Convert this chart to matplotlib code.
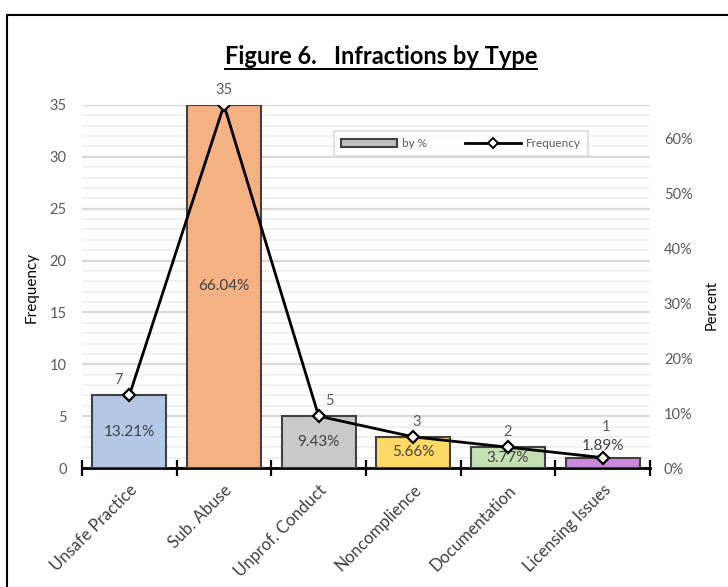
import matplotlib
matplotlib.use("Agg")
import matplotlib.pyplot as plt
import matplotlib.patches as patches
from matplotlib.lines import Line2D
from matplotlib.ticker import MultipleLocator, PercentFormatter

plt.rcParams["font.family"] = ["Lato", "DejaVu Sans"]

categories = ["Unsafe Practice", "Sub. Abuse", "Unprof. Conduct",
              "Noncomplience", "Documentation", "Licensing Issues"]
frequency = [7, 35, 5, 3, 2, 1]
percent = [13.21, 66.04, 9.43, 5.66, 3.77, 1.89]
bar_colors = ["#B4C7E7", "#F4B183", "#C9C9C9", "#FFD966", "#C5E0B4", "#CC88DD"]

GRAY_TXT = "#595959"
DARK_TXT = "#404040"

fig = plt.figure(figsize=(7.28, 5.87), dpi=100)
fig.patch.set_facecolor("white")

# outer frame of the chart object
fig.add_artist(patches.Rectangle((7 / 728, -0.1), 1.0, 1 - 15 / 587 + 0.1,
                                 transform=fig.transFigure, fill=False,
                                 edgecolor="black", linewidth=1.5))

rect = [82 / 728, 1 - 468 / 587, (650 - 82) / 728, (468 - 105) / 587]
ax = fig.add_axes(rect)          # frequency scale + gridlines
ax2 = ax.twinx()                 # percent bars
ax3 = ax.twinx()                 # frequency line on top

x = list(range(len(categories)))
fmax = 35

# gridlines on the frequency axis
ax.set_ylim(0, fmax)
ax.set_xlim(-0.5, len(categories) - 0.5)
ax.yaxis.set_major_locator(MultipleLocator(5))
ax.yaxis.set_minor_locator(MultipleLocator(1))
ax.grid(True, which="major", axis="y", color="#D9D9D9", linewidth=1.6)
ax.grid(True, which="minor", axis="y", color="#F0F0F0", linewidth=1.3)
ax.set_axisbelow(True)
ax.tick_params(axis="y", which="both", length=0, labelsize=10.5,
               labelcolor=GRAY_TXT, pad=11)
for s in ax.spines.values():
    s.set_visible(False)
ax.spines["bottom"].set_visible(True)
ax.spines["bottom"].set_linewidth(2)
ax.spines["bottom"].set_zorder(10)

# category labels and boundary ticks
ax.set_xticks(x)
ax.set_xticklabels(categories, rotation=45, ha="right", va="top",
                   rotation_mode="anchor", fontsize=12, color=DARK_TXT)
ax.tick_params(axis="x", which="major", length=0, pad=10)
ax.set_xticks([i - 0.5 for i in range(len(categories) + 1)], minor=True)
ax.tick_params(axis="x", which="minor", direction="inout", length=11,
               width=1.6, color="black")

# bars on the percent axis, scaled so the tallest bar meets its line point
ax2.set_ylim(0, percent[1] * fmax / frequency[1])
ax2.set_xlim(ax.get_xlim())
ax2.bar(x, percent, width=0.78, color=bar_colors, edgecolor=DARK_TXT,
        linewidth=1.5, zorder=2)
ax2.yaxis.set_major_locator(MultipleLocator(10))
ax2.yaxis.set_major_formatter(PercentFormatter(decimals=0))
ax2.tick_params(axis="y", length=0, labelsize=10.5, labelcolor=GRAY_TXT, pad=10)
for s in ax2.spines.values():
    s.set_visible(False)

# frequency line
ax3.set_ylim(ax.get_ylim())
ax3.set_xlim(ax.get_xlim())
ax3.plot(x, frequency, color="black", linewidth=2, marker="D", markersize=6,
         markerfacecolor="white", markeredgecolor="black", markeredgewidth=1.6,
         zorder=5)
ax3.set_yticks([])
for s in ax3.spines.values():
    s.set_visible(False)

# data labels (frequency labels nudged sideways where the line passes)
nudge = [-11, 0, 11, 3, 0, 3]
for xi, p, f, dx in zip(x, percent, frequency, nudge):
    if p < 3:
        ax2.annotate(f"{p:.2f}%", (xi, p), xytext=(0, 12), textcoords="offset pixels",
                     ha="center", va="center", fontsize=11, color=DARK_TXT)
        f_off = 31
    else:
        ax2.text(xi, p / 2, f"{p:.2f}%", ha="center", va="center",
                 fontsize=11, color=DARK_TXT, zorder=3)
        f_off = 15
    ax3.annotate(f"{f}", (xi, f), xytext=(dx, f_off), textcoords="offset pixels",
                 ha="center", va="center", fontsize=10.5, color=GRAY_TXT)

# legend
handles = [patches.Patch(facecolor="#BFBFBF", edgecolor=DARK_TXT, linewidth=1.5,
                         label="by %"),
           Line2D([], [], color="black", linewidth=2, marker="D", markersize=5,
                  markerfacecolor="white", markeredgecolor="black",
                  markeredgewidth=1.4, label="Frequency")]
leg = ax3.legend(handles=handles, ncol=2, loc="center",
                 bbox_to_anchor=(0.667, 0.894), fontsize=8.5, frameon=True,
                 fancybox=False, edgecolor="#D9D9D9", handlelength=4.8,
                 handleheight=0.6, handletextpad=0.4, columnspacing=3.2,
                 borderpad=0.6, borderaxespad=0, labelcolor=GRAY_TXT)
leg.get_frame().set_linewidth(1.5)

# axis titles
fig.text(32 / 728, 1 - 287 / 587, "Frequency", rotation=90, ha="center",
         va="center", fontsize=11, color="black")
fig.text(712 / 728, 1 - 305 / 587, "Percent", rotation=90, ha="center",
         va="center", fontsize=10.5, color="black")

# underlined title
title = fig.text(381 / 728, 1 - 56 / 587, "Figure 6.   Infractions by Type",
                 ha="center", va="center", fontsize=17, fontweight="bold",
                 color="black")
fig.canvas.draw()
bb = title.get_window_extent()
uy = (bb.y0 - 1) / fig.bbox.height
fig.add_artist(Line2D([bb.x0 / fig.bbox.width, bb.x1 / fig.bbox.width], [uy, uy],
                      transform=fig.transFigure, color="black", linewidth=1.4))

fig.savefig("out.png", dpi=100)
